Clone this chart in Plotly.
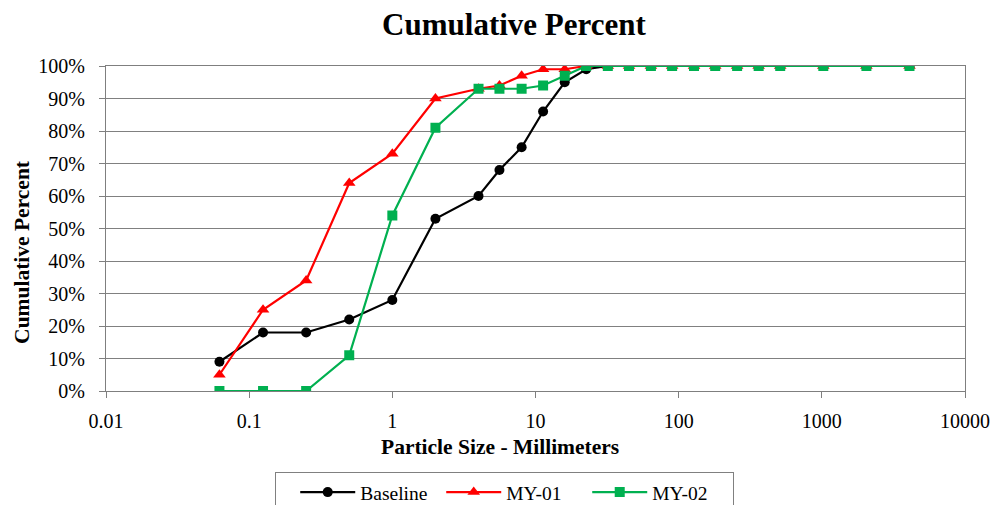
import plotly.graph_objects as go

sizes = [0.062, 0.125, 0.25, 0.5, 1, 2, 4, 5.6, 8, 11.3, 16, 22.6, 32, 45, 64, 90,
         128, 180, 256, 362, 512, 1024, 2048, 4096]
baseline = [9, 18, 18, 22, 28, 53, 60, 68, 75, 86, 95, 99, 100, 100, 100, 100,
            100, 100, 100, 100, 100, 100, 100, 100]
my01 = [5, 25, 34, 64, 73, 90, 93, 94, 97, 99, 99, 100, 100, 100, 100, 100,
        100, 100, 100, 100, 100, 100, 100, 100]
my02 = [0, 0, 0, 11, 54, 81, 93, 93, 93, 94, 97, 100, 100, 100, 100, 100,
        100, 100, 100, 100, 100, 100, 100, 100]
x_ticks = [0.01, 0.1, 1, 10, 100, 1000, 10000]
x_tick_labels = ["0.01", "0.1", "1", "10", "100", "1000", "10000"]

font = "Liberation Serif"
axis_col = "#7f7f7f"

fig = go.Figure()
fig.add_trace(go.Scatter(x=sizes, y=[v / 100 for v in baseline], name="Baseline",
                         mode="lines+markers", line=dict(color="black", width=2.2),
                         marker=dict(symbol="circle", size=10, color="black")))
fig.add_trace(go.Scatter(x=sizes, y=[v / 100 for v in my01], name="MY-01",
                         mode="lines+markers", line=dict(color="#ff0000", width=2.2),
                         marker=dict(symbol="triangle-up", size=11, color="#ff0000")))
fig.add_trace(go.Scatter(x=sizes, y=[v / 100 for v in my02], name="MY-02",
                         mode="lines+markers", line=dict(color="#00b050", width=2.2),
                         marker=dict(symbol="square", size=10, color="#00b050")))

fig.update_layout(
    width=995, height=497,
    margin=dict(l=98, r=38, t=58, b=114, autoexpand=False),
    paper_bgcolor="white", plot_bgcolor="white",
    font=dict(family=font, color="black", size=20),
    title=dict(text="<b>Cumulative Percent</b>", x=0.5085, xanchor="center",
               xref="container", y=0.968, yanchor="middle", yref="container",
               font=dict(size=31, family=font, color="black")),
    xaxis=dict(type="log", range=[-2, 4], tickvals=x_ticks, ticktext=x_tick_labels,
               showgrid=False, ticks="outside", ticklen=6, tickcolor=axis_col,
               showline=True, linecolor=axis_col, linewidth=1, mirror=True,
               ticklabelstandoff=6,
               tickfont=dict(size=20, family=font, color="black")),
    yaxis=dict(range=[0, 1], dtick=0.1, tickformat=".0%", showgrid=True,
               gridcolor="#808080", gridwidth=1, ticks="outside", ticklen=6,
               tickcolor=axis_col, showline=True, linecolor=axis_col, linewidth=1,
               mirror=True, zeroline=False, ticklabelstandoff=10,
               tickfont=dict(size=20, family=font, color="black")),
    legend=dict(orientation="h", x=0.197, xanchor="left", y=-0.249, yanchor="top",
                bordercolor="#808080", borderwidth=1,
                font=dict(size=19.5, family=font, color="black"),
                title=dict(text="\u00a0\u00a0\u00a0", side="left", font=dict(size=12, family=font)),
                itemwidth=55, entrywidth=76, traceorder="normal"),
    showlegend=True,
    annotations=[
        dict(text="<b>Particle Size - Millimeters</b>", xref="paper", yref="paper",
             x=0.4587, y=-0.172, xanchor="center", yanchor="middle", showarrow=False,
             font=dict(size=21.5, family=font, color="black")),
        dict(text="<b>Cumulative Percent</b>", xref="paper", yref="paper",
             x=-0.0978, y=0.428, xanchor="center", yanchor="middle", showarrow=False,
             textangle=-90, font=dict(size=21.5, family=font, color="black")),
    ],
)

fig.write_html("out.html")
